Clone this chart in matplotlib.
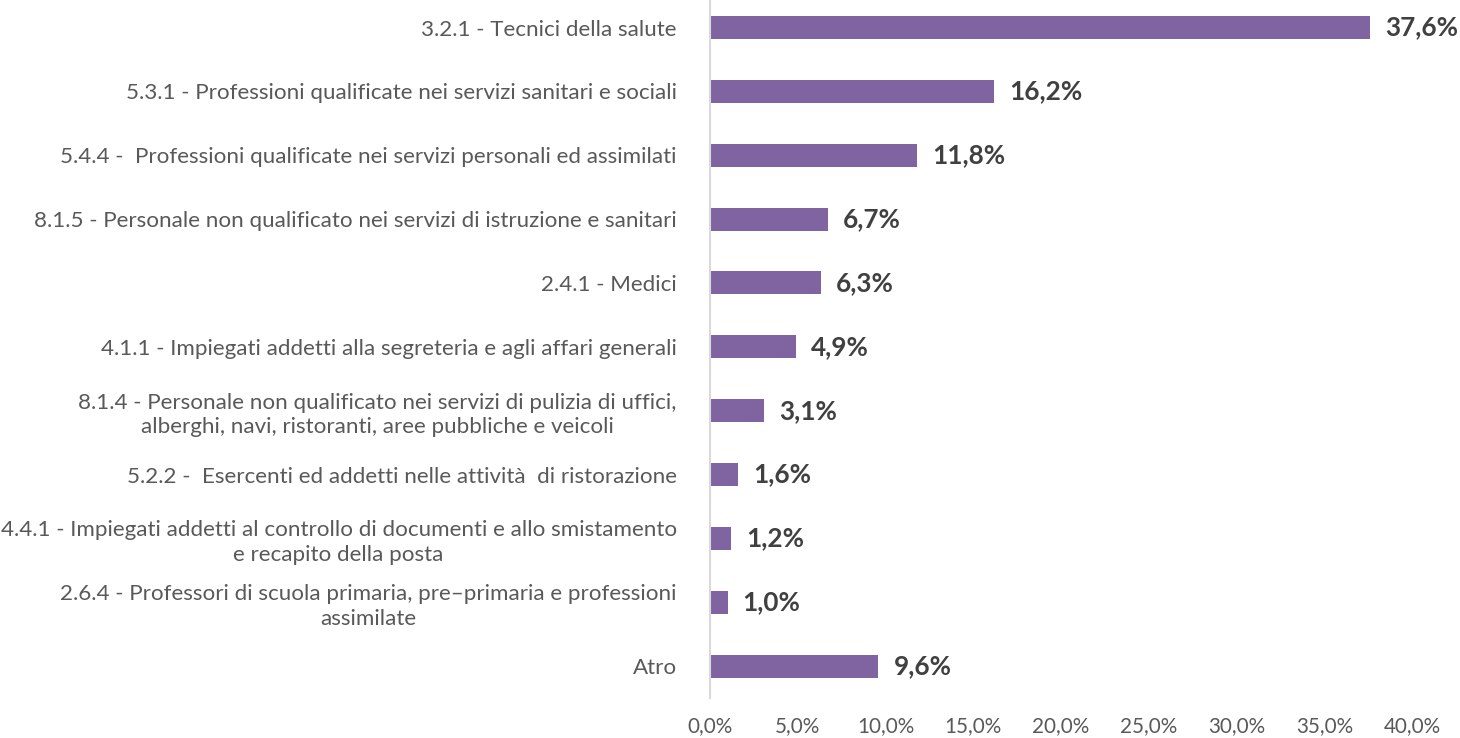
import matplotlib
matplotlib.use("Agg")
import matplotlib.pyplot as plt
from matplotlib.ticker import FuncFormatter

categories = [
    "3.2.1 - Tecnici della salute",
    "5.3.1 - Professioni qualificate nei servizi sanitari e sociali",
    "5.4.4 -  Professioni qualificate nei servizi personali ed assimilati",
    "8.1.5 - Personale non qualificato nei servizi di istruzione e sanitari",
    "2.4.1 - Medici",
    "4.1.1 - Impiegati addetti alla segreteria e agli affari generali",
    "8.1.4 - Personale non qualificato nei servizi di pulizia di uffici,\nalberghi, navi, ristoranti, aree pubbliche e veicoli",
    "5.2.2 -  Esercenti ed addetti nelle attività  di ristorazione",
    "4.4.1 - Impiegati addetti al controllo di documenti e allo smistamento\ne recapito della posta",
    "2.6.4 - Professori di scuola primaria, pre\u2013primaria e professioni\nassimilate",
    "Atro",
]
values = [37.6, 16.2, 11.8, 6.7, 6.3, 4.9, 3.1, 1.6, 1.2, 1.0, 9.6]
xticks = [0, 5, 10, 15, 20, 25, 30, 35, 40]

plt.rcParams['font.family'] = ['Lato', 'DejaVu Sans']

fig = plt.figure(figsize=(14.6, 7.38), dpi=100)
top_px, bot_px = -4.4, 698
ax = fig.add_axes([710/1460, 1 - bot_px/738, (1412 - 710)/1460, (bot_px - top_px)/738])
renderer = fig.canvas.get_renderer()

def fit_size(s, target_px, weight="normal"):
    t = fig.text(0, 0, s, fontsize=10, fontweight=weight)
    w = t.get_window_extent(renderer).width
    t.remove()
    return 10 * target_px / w

cat_fs = fit_size("4.4.1 - Impiegati addetti al controllo di documenti e allo smistamento", 676)
val_fs = fit_size("37,6%", 73, "bold")
tick_fs = fit_size("40,0%", 57)

y = list(range(len(categories)))
ax.barh(y, values, height=0.36, color="#8064A2")
ax.set_ylim(len(categories) - 0.5, -0.5)
ax.set_xlim(0, 40)
ax.set_yticks(y)
ax.set_yticklabels(categories, fontsize=cat_fs, color="#595959", linespacing=1.3)
ax.tick_params(axis='y', length=0, pad=24)
for lbl in ax.get_yticklabels():
    lbl.set_multialignment('center')
ax.set_xticks(xticks)
ax.xaxis.set_major_formatter(FuncFormatter(lambda v, p: f"{v:.1f}%".replace(".", ",")))
ax.tick_params(axis='x', length=0, labelsize=tick_fs, labelcolor="#595959", pad=13)

for s in ["top", "right", "bottom"]:
    ax.spines[s].set_visible(False)
ax.spines["left"].set_color("#D9D9D9")
ax.spines["left"].set_linewidth(1.5)

for yi, v in zip(y, values):
    ax.text(v + 0.85, yi, f"{v:.1f}%".replace(".", ","), va="center", ha="left",
            fontsize=val_fs, fontweight="bold", color="#404040")

fig.savefig("out.png", dpi=100)
